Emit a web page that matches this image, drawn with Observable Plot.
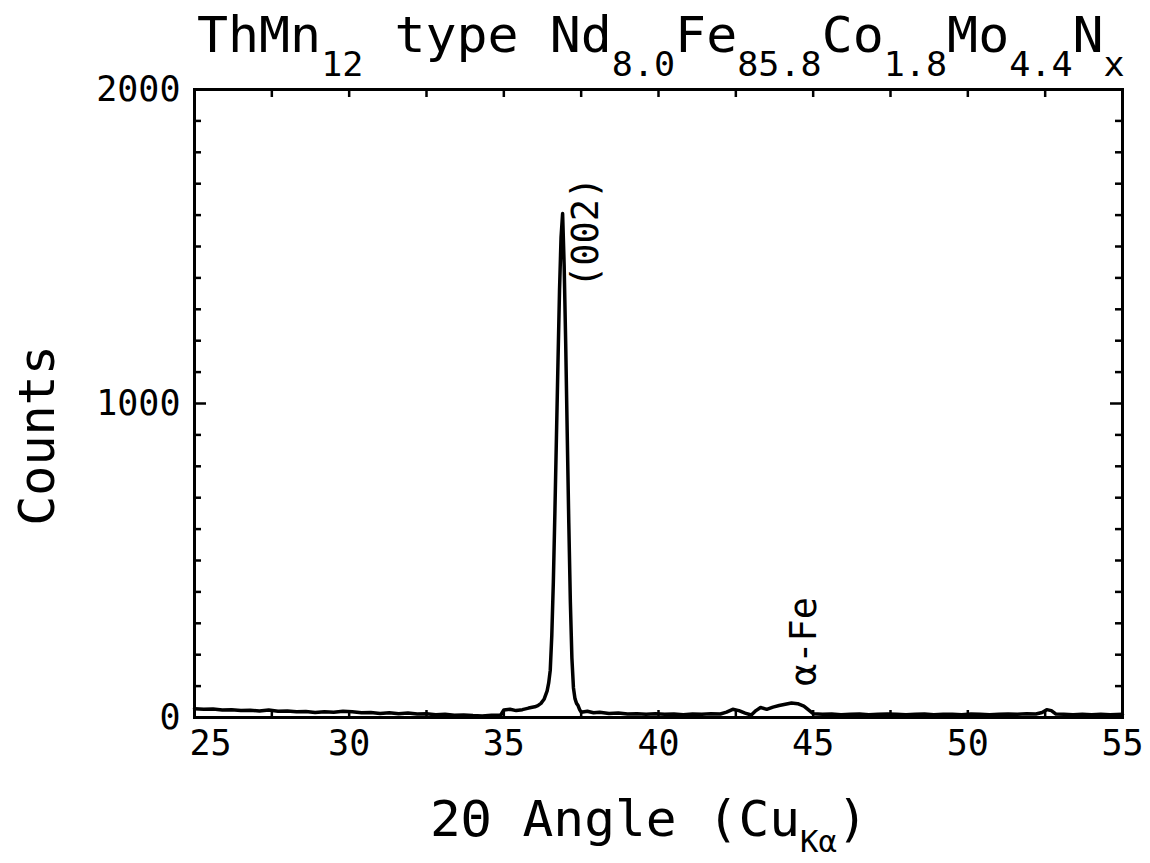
<!DOCTYPE html>
<html>
<head>
<meta charset="utf-8">
<script src="https://cdn.jsdelivr.net/npm/d3@7"></script>
<script src="https://cdn.jsdelivr.net/npm/@observablehq/plot@0.6"></script>
<style>
  html, body { margin: 0; padding: 0; background: #fff; }
  svg text { white-space: pre; }
</style>
</head>
<body>
<script>
// X-ray diffraction scan of ThMn12-type Nd8.0Fe85.8Co1.8Mo4.4Nx

const angle = [
  25.0, 25.3, 25.6, 25.9, 26.2, 26.5, 26.8, 27.1, 27.4, 27.7,
  28.0, 28.3, 28.6, 28.9, 29.2, 29.5, 29.8, 30.1, 30.4, 30.7,
  31.0, 31.3, 31.6, 31.9, 32.2, 32.5, 32.8, 33.1, 33.4, 33.7,
  34.0, 34.3, 34.6, 34.9, 35.0, 35.2, 35.4, 35.6, 35.8, 36.0,
  36.1, 36.2, 36.3, 36.4, 36.45, 36.5, 36.55, 36.6, 36.65, 36.7,
  36.75, 36.8, 36.85, 36.9, 36.95, 37.0, 37.05, 37.1, 37.15, 37.2,
  37.25, 37.3, 37.35, 37.4, 37.45, 37.5, 37.7, 37.9, 38.1, 38.4,
  38.7, 39.0, 39.3, 39.6, 39.9, 40.2, 40.5, 40.8, 41.1, 41.4,
  41.7, 42.0, 42.2, 42.4, 42.6, 42.8, 43.0, 43.15, 43.3, 43.5,
  43.7, 43.9, 44.1, 44.3, 44.5, 44.7, 44.85, 45.0, 45.3, 45.6,
  45.9, 46.2, 46.5, 46.8, 47.1, 47.4, 47.7, 48.0, 48.3, 48.6,
  48.9, 49.2, 49.5, 49.8, 50.1, 50.4, 50.7, 51.0, 51.3, 51.6,
  51.9, 52.2, 52.4, 52.55, 52.7, 52.85, 53.1, 53.4, 53.7, 54.0,
  54.3, 54.6, 55.0
];

const counts = [
  28, 26, 27, 24, 25, 22, 23, 21, 24, 20,
  21, 18, 19, 16, 18, 17, 20, 18, 15, 16,
  13, 15, 12, 14, 11, 12, 9, 10, 7, 8,
  6, 5, 7, 8, 24, 26, 22, 25, 30, 34,
  38, 45, 58, 85, 110, 150, 260, 430, 650, 890,
  1130, 1360, 1530, 1605, 1440, 1190, 900, 620, 370, 190,
  95, 60, 45, 38, 25, 17, 20, 15, 17, 13,
  14, 11, 12, 10, 12, 10, 11, 9, 11, 10,
  12, 11, 17, 26, 22, 14, 8, 22, 32, 26,
  33, 38, 42, 46, 44, 36, 24, 12, 10, 11,
  9, 10, 11, 9, 10, 11, 10, 9, 10, 11,
  9, 10, 10, 9, 11, 10, 9, 10, 11, 10,
  12, 11, 16, 25, 22, 11, 10, 9, 10, 9,
  10, 9, 10
];

// Axis ticks and labels
const xTickLabels = [25, 30, 35, 40, 45, 50, 55];
const xMinorTicks = [25, 27.5, 30, 32.5, 35, 37.5, 40, 42.5, 45, 47.5, 50, 52.5, 55];
const yTickLabels = [0, 1000, 2000];
const yMinorTicks = [100, 200, 300, 400, 500, 600, 700, 800, 900, 1100, 1200, 1300, 1400, 1500, 1600, 1700, 1800, 1900];
const yMajorTicks = [1000];

// Peak annotations
const peakNames = ["(002)", "\u03b1-Fe"];
const peakAngle = [37.65, 44.7];
const peakCounts = [1545, 242];

const scan = angle.map((a, i) => ({angle: a, counts: counts[i]}));
const peaks = peakNames.map((name, i) => ({name, angle: peakAngle[i], counts: peakCounts[i]}));

const FONT = "DejaVu Sans Mono";
const W = 1150, H = 863;
const mL = 194, mR = 28, mT = 89, mB = 146;
const plotW = W - mL - mR, plotH = H - mT - mB;
const tickStyle = {stroke: "black", strokeWidth: 2.5};

const svg = Plot.plot({
  width: W,
  height: H,
  marginLeft: mL,
  marginRight: mR,
  marginTop: mT,
  marginBottom: mB,
  style: {fontFamily: FONT, color: "black", background: "white"},
  x: {domain: [25, 55]},
  y: {domain: [0, 2000]},
  marks: [
    // inward ticks on all four sides
    Plot.tickX(xMinorTicks, {x: d => d, insetBottom: plotH - 8, ...tickStyle}),
    Plot.tickX(xMinorTicks, {x: d => d, insetTop: plotH - 7, ...tickStyle}),
    Plot.tickY(yMinorTicks, {y: d => d, insetRight: plotW - 7, ...tickStyle}),
    Plot.tickY(yMinorTicks, {y: d => d, insetLeft: plotW - 7, ...tickStyle}),
    Plot.tickY(yMajorTicks, {y: d => d, insetRight: plotW - 12, ...tickStyle}),
    Plot.tickY(yMajorTicks, {y: d => d, insetLeft: plotW - 12, ...tickStyle}),
    // first x label sits just right of the corner, clear of the y "0"
    Plot.axisX({ticks: xTickLabels.slice(0, 1), tickSize: 0, tickPadding: 13, fontSize: 35, dx: 16, label: null}),
    Plot.axisX({ticks: xTickLabels.slice(1), tickSize: 0, tickPadding: 13, fontSize: 35, label: null}),
    Plot.axisY({ticks: yTickLabels, tickSize: 0, tickPadding: 14, fontSize: 35, tickFormat: d3.format("d"), label: null}),
    Plot.line(scan, {x: "angle", y: "counts", stroke: "black", strokeWidth: 3.5, strokeLinejoin: "round", strokeLinecap: "round"}),
    Plot.text(peaks, {x: "angle", y: "counts", text: "name", rotate: -90, fontSize: 37, textAnchor: "middle", lineAnchor: "middle", fill: "black"}),
    Plot.text(["Counts"], {frameAnchor: "left", dx: -157, dy: 32, rotate: -90, fontSize: 50, textAnchor: "middle", lineAnchor: "middle", fill: "black"}),
    Plot.frame({stroke: "black", strokeWidth: 3})
  ]
});
document.body.append(svg);

// Chemical formulas with subscripts, drawn as SVG text with tspans and
// squeezed horizontally to the wanted width.
const root = d3.select(svg);
function formula(parts, {x, y, size, subSize, shift, length}) {
  const t = root.append("text")
    .attr("x", x).attr("y", y)
    .attr("text-anchor", "start")
    .attr("font-family", FONT)
    .attr("font-size", size)
    .attr("fill", "black");
  let down = false;
  for (const [s, sub] of parts) {
    const ts = t.append("tspan").text(s);
    if (sub) {
      ts.attr("font-size", subSize);
      if (!down) { ts.attr("dy", shift); down = true; }
    } else if (down) {
      ts.attr("dy", -shift); down = false;
    }
  }
  const w = t.node().getBBox().width;
  const sx = length / w;
  t.attr("transform", `translate(${x},0) scale(${sx},1) translate(${-x},0)`);
}

formula([
  ["ThMn", 0], ["12", 1], [" type Nd", 0], ["8.0", 1], ["Fe", 0], ["85.8", 1],
  ["Co", 0], ["1.8", 1], ["Mo", 0], ["4.4", 1], ["N", 0], ["x", 1]
], {x: 197, y: 52, size: 50, subSize: 34, shift: 24, length: 928});

formula([
  ["2\u0398 Angle (Cu", 0], ["K\u03b1", 1], [")", 0]
], {x: 430, y: 836, size: 50, subSize: 30, shift: 16, length: 438});
</script>
</body>
</html>
